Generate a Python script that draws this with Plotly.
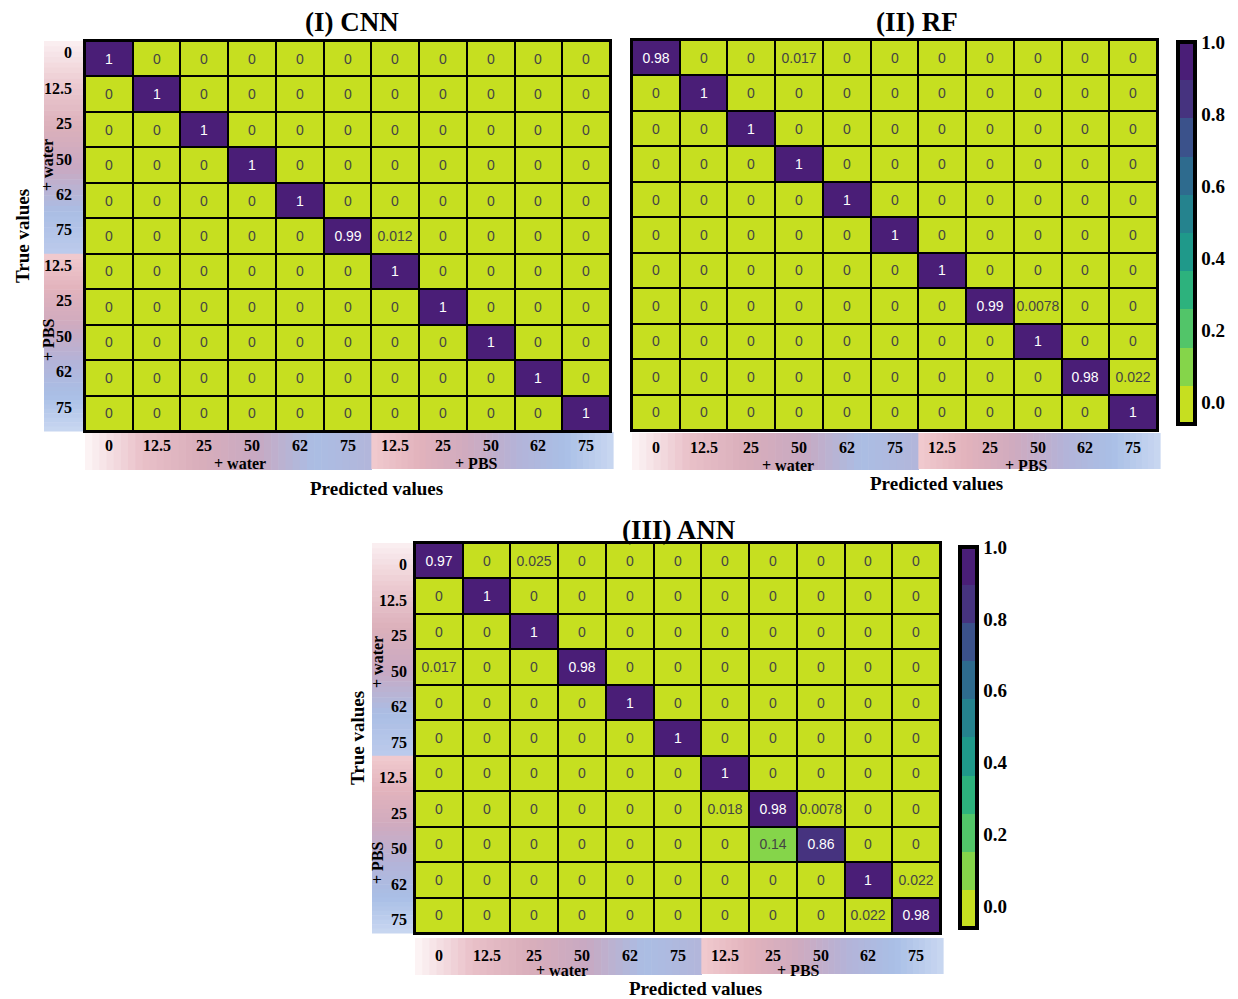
import plotly.graph_objects as go

W, H = 1238, 999

# ---------------- data ----------------
row_labels = ["0", "12.5", "25", "50", "62", "75", "12.5", "25", "50", "62", "75"]
col_labels = ["0", "12.5", "25", "50", "62", "75", "12.5", "25", "50", "62", "75"]
group_names = ["+ water", "+ PBS"]
group_sizes = [6, 5]

cnn = [
    [1, 0, 0, 0, 0, 0, 0, 0, 0, 0, 0],
    [0, 1, 0, 0, 0, 0, 0, 0, 0, 0, 0],
    [0, 0, 1, 0, 0, 0, 0, 0, 0, 0, 0],
    [0, 0, 0, 1, 0, 0, 0, 0, 0, 0, 0],
    [0, 0, 0, 0, 1, 0, 0, 0, 0, 0, 0],
    [0, 0, 0, 0, 0, 0.99, 0.012, 0, 0, 0, 0],
    [0, 0, 0, 0, 0, 0, 1, 0, 0, 0, 0],
    [0, 0, 0, 0, 0, 0, 0, 1, 0, 0, 0],
    [0, 0, 0, 0, 0, 0, 0, 0, 1, 0, 0],
    [0, 0, 0, 0, 0, 0, 0, 0, 0, 1, 0],
    [0, 0, 0, 0, 0, 0, 0, 0, 0, 0, 1],
]
rf = [
    [0.98, 0, 0, 0.017, 0, 0, 0, 0, 0, 0, 0],
    [0, 1, 0, 0, 0, 0, 0, 0, 0, 0, 0],
    [0, 0, 1, 0, 0, 0, 0, 0, 0, 0, 0],
    [0, 0, 0, 1, 0, 0, 0, 0, 0, 0, 0],
    [0, 0, 0, 0, 1, 0, 0, 0, 0, 0, 0],
    [0, 0, 0, 0, 0, 1, 0, 0, 0, 0, 0],
    [0, 0, 0, 0, 0, 0, 1, 0, 0, 0, 0],
    [0, 0, 0, 0, 0, 0, 0, 0.99, 0.0078, 0, 0],
    [0, 0, 0, 0, 0, 0, 0, 0, 1, 0, 0],
    [0, 0, 0, 0, 0, 0, 0, 0, 0, 0.98, 0.022],
    [0, 0, 0, 0, 0, 0, 0, 0, 0, 0, 1],
]
ann = [
    [0.97, 0, 0.025, 0, 0, 0, 0, 0, 0, 0, 0],
    [0, 1, 0, 0, 0, 0, 0, 0, 0, 0, 0],
    [0, 0, 1, 0, 0, 0, 0, 0, 0, 0, 0],
    [0.017, 0, 0, 0.98, 0, 0, 0, 0, 0, 0, 0],
    [0, 0, 0, 0, 1, 0, 0, 0, 0, 0, 0],
    [0, 0, 0, 0, 0, 1, 0, 0, 0, 0, 0],
    [0, 0, 0, 0, 0, 0, 1, 0, 0, 0, 0],
    [0, 0, 0, 0, 0, 0, 0.018, 0.98, 0.0078, 0, 0],
    [0, 0, 0, 0, 0, 0, 0, 0.14, 0.86, 0, 0],
    [0, 0, 0, 0, 0, 0, 0, 0, 0, 1, 0.022],
    [0, 0, 0, 0, 0, 0, 0, 0, 0, 0.022, 0.98],
]
cbar_tickvals = [0.0, 0.2, 0.4, 0.6, 0.8, 1.0]
cbar_ticktext = ["0.0", "0.2", "0.4", "0.6", "0.8", "1.0"]

# ---------------- styles ----------------
SERIF = "Liberation Serif, Times New Roman, serif"
SANS = "Liberation Sans, Arial, sans-serif"
bins = ["#c6df20", "#85d54a", "#52c569", "#2db27d", "#1f998a",
        "#25838e", "#2e6b8e", "#3b528b", "#46337f", "#4a1e77"]
colorscale = []
for i, c in enumerate(bins):
    colorscale.append([i / len(bins), c])
    colorscale.append([(i + 1) / len(bins), c])
CMIN, CMAX = -0.06, 1.0

water_stops = ["#fbf0f2", "#eccbd1", "#dcb0bb", "#c9a9c2", "#aabde4", "#bccbec"]
pbs_stops = ["#f1cacf", "#e2b3bc", "#cfaabf", "#b4b3d8", "#a9bfe6", "#c9d7f1"]
xwater_stops = ["#fdf6f7", "#e9c0c8", "#d9aebb", "#c8a9c2", "#aabde4", "#b3b6da"]


def fx(px):
    return px / W


def fy(py):
    return 1 - py / H


def hex2rgb(h):
    h = h.lstrip("#")
    return tuple(int(h[i:i + 2], 16) for i in (0, 2, 4))


def lerp_color(stops, t):
    n = len(stops) - 1
    pos = min(max(t, 0), 1) * n
    i = min(int(pos), n - 1)
    f = pos - i
    a, b = hex2rgb(stops[i]), hex2rgb(stops[i + 1])
    c = [round(a[k] + (b[k] - a[k]) * f) for k in range(3)]
    return "rgb(%d,%d,%d)" % tuple(c)


shapes = []


def gradient_band(x0, y0, x1, y1, stops, vertical, n=40):
    for k in range(n):
        t = (k + 0.5) / n
        col = lerp_color(stops, t)
        if vertical:
            a = y0 + (y1 - y0) * k / n
            b = y0 + (y1 - y0) * (k + 1) / n + 0.6
            shapes.append(dict(type="rect", xref="paper", yref="paper",
                               x0=fx(x0), x1=fx(x1), y0=fy(a), y1=fy(b),
                               fillcolor=col, line=dict(width=0), layer="below"))
        else:
            a = x0 + (x1 - x0) * k / n
            b = x0 + (x1 - x0) * (k + 1) / n + 0.6
            shapes.append(dict(type="rect", xref="paper", yref="paper",
                               x0=fx(a), x1=fx(b), y0=fy(y0), y1=fy(y1),
                               fillcolor=col, line=dict(width=0), layer="below"))


def text_ann(x, y, text, size, xref="paper", yref="paper", angle=0,
             xanchor="center"):
    return dict(x=x, y=y, xref=xref, yref=yref, text="<b>%s</b>" % text,
                showarrow=False, textangle=angle, xanchor=xanchor,
                yanchor="middle",
                font=dict(family=SERIF, size=size, color="black"))


panels = [
    dict(name="(I) CNN", z=cnn, box=(85, 41, 610, 431), cax="coloraxis",
         ylab=True, yoff=-0.17, band_x=(44, 84), ytick_pad=10,
         xband_y=(432, 470),
         xtick_y=446, xgroup_y=(463, 464), xgroup_x=(240, 476),
         ygroup_x=48, ygroup_y=(165, 340), true_x=22,
         pred=(376, 489), title=(352, 22)),
    dict(name="(II) RF", z=rf, box=(632, 40, 1157, 430), cax="coloraxis",
         ylab=False, xband_y=(433, 470), xtick_y=447,
         xgroup_x=(788, 1026), xgroup_y=(466, 465),
         pred=(936, 484), title=(917, 22)),
    dict(name="(III) ANN", z=ann, box=(415, 543, 940, 933), cax="coloraxis2",
         ylab=True, yoff=0.12, band_x=(372, 413), ytick_pad=4,
         xband_y=(938, 975),
         xtick_y=955, xgroup_y=(970, 970), xgroup_x=(562, 798),
         ygroup_x=377, ygroup_y=(662, 863), true_x=357,
         pred=(695, 988), title=(679, 530)),
]

fig = go.Figure()
annotations = []
ncat = len(row_labels)

for idx, p in enumerate(panels):
    sfx = "" if idx == 0 else str(idx + 1)
    xa, ya = "x" + sfx, "y" + sfx
    x0, y0, x1, y1 = p["box"]
    fig.add_trace(go.Heatmap(
        z=p["z"], x=list(range(ncat)), y=list(range(ncat)),
        coloraxis=p["cax"], xgap=2, ygap=2,
        texttemplate="%{z:.2~g}", textfont=dict(family=SANS, size=14),
        xaxis=xa, yaxis=ya, hoverinfo="skip"))
    axcommon = dict(showgrid=False, zeroline=False, showticklabels=False,
                    ticks="", showline=True, mirror=True, linecolor="black",
                    linewidth=2)
    fig.layout["xaxis" + sfx] = dict(domain=[fx(x0), fx(x1)], range=[-0.5, ncat - 0.5],
                                     anchor=ya, **axcommon)
    fig.layout["yaxis" + sfx] = dict(domain=[fy(y1), fy(y0)], range=[ncat - 0.5, -0.5],
                                     anchor=xa, **axcommon)

    cw = (x1 - x0) / ncat
    ch = (y1 - y0) / ncat
    # x band gradient
    xs = x0 + cw * group_sizes[0]
    gradient_band(x0, p["xband_y"][0], xs, p["xband_y"][1], xwater_stops, False)
    gradient_band(xs, p["xband_y"][0], x1 + 3, p["xband_y"][1] - 1, pbs_stops, False)
    for i, lab in enumerate(col_labels):
        annotations.append(text_ann(i, fy(p["xtick_y"]), lab, 16, xref=xa))
    for g in range(2):
        annotations.append(text_ann(fx(p["xgroup_x"][g]), fy(p["xgroup_y"][g]),
                                    group_names[g], 16))
    annotations.append(text_ann(fx(p["pred"][0]), fy(p["pred"][1]),
                                "Predicted values", 19))
    annotations.append(text_ann(fx(p["title"][0]), fy(p["title"][1]),
                                p["name"], 27))
    if p["ylab"]:
        bx0, bx1 = p["band_x"]
        ys = y0 + ch * group_sizes[0]
        gradient_band(bx0, y0, bx1, ys, water_stops, True)
        gradient_band(bx0, ys, bx1, y1, pbs_stops, True)
        for i, lab in enumerate(row_labels):
            annotations.append(text_ann(fx(bx1 - p["ytick_pad"]), i + p["yoff"], lab, 16,
                                        yref=ya, xanchor="right"))
        for g in range(2):
            annotations.append(text_ann(fx(p["ygroup_x"]), fy(p["ygroup_y"][g]),
                                        group_names[g], 16, angle=-90))
        annotations.append(text_ann(fx(p["true_x"]), fy((y0 + y1) / 2),
                                    "True values", 19, angle=-90))


def cbar(xpx, ytop, ybot):
    return dict(x=fx(xpx), xanchor="left", xpad=0, ypad=0,
                y=fy((ytop + ybot) / 2), yanchor="middle",
                len=(ybot - ytop) / H, lenmode="fraction",
                thickness=17, outlinewidth=4, outlinecolor="black",
                tickvals=cbar_tickvals, ticktext=cbar_ticktext, ticks="",
                tickfont=dict(family=SERIF, size=19, color="black",
                              weight="bold"),
                ticklabelposition="outside")


fig.update_layout(
    width=W, height=H,
    margin=dict(l=0, r=0, t=0, b=0),
    paper_bgcolor="white", plot_bgcolor="black",
    coloraxis=dict(colorscale=colorscale, cmin=CMIN, cmax=CMAX,
                   colorbar=cbar(1178, 42, 424)),
    coloraxis2=dict(colorscale=colorscale, cmin=CMIN, cmax=CMAX,
                    colorbar=cbar(960, 547, 928)),
    shapes=shapes, annotations=annotations,
    showlegend=False,
)

fig.write_html("out.html",
               config={"displayModeBar": False},
               post_script="document.body.style.margin='0px';"
                           "document.body.style.overflow='hidden';")
